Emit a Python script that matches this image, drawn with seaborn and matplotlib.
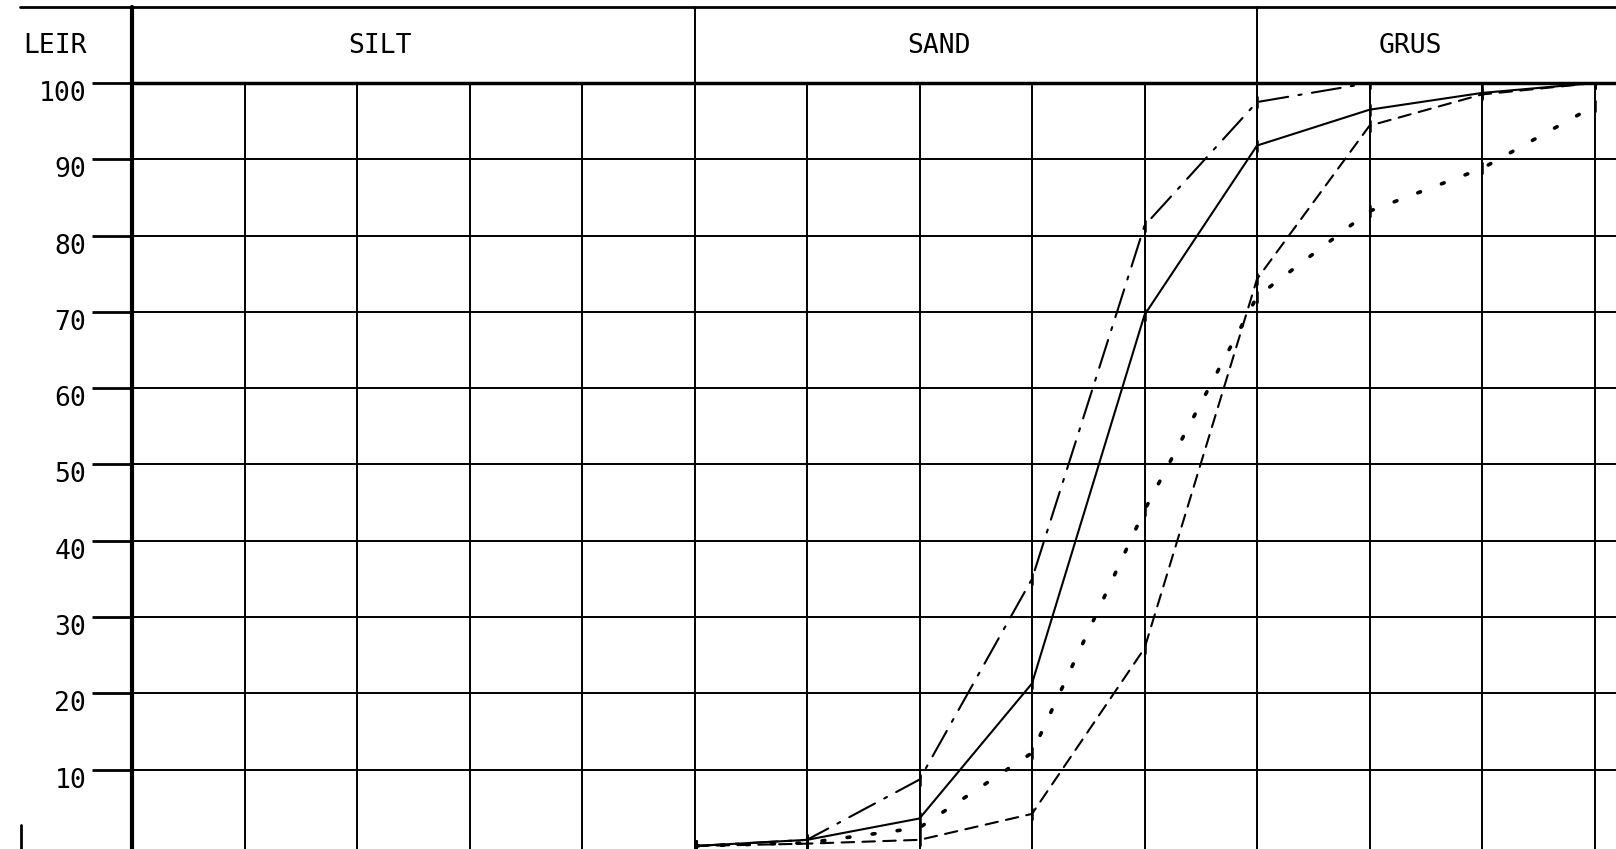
import matplotlib
matplotlib.use("Agg")
import matplotlib.pyplot as plt
import matplotlib.transforms as mtransforms
from matplotlib.lines import Line2D
import seaborn as sns
import pandas as pd
import numpy as np

# Sieve sizes (mm) and cumulative percent passing for the four samples
sieve_mm = [0.063, 0.125, 0.25, 0.5, 1, 2, 4, 8, 16]
sample_solid = [0, 0.8, 3.6, 21.3, 69.6, 91.8, 96.5, 98.7, 100]
sample_dashdot = [0, 0.8, 8.7, 35.0, 81.3, 97.5, 100, 100, 100]
sample_dashed = [0, 0.3, 0.8, 4.2, 25.9, 74.3, 94.4, 98.5, 100]
sample_dotted = [0, 0.4, 2.4, 12.2, 44.0, 72.0, 83.2, 88.8, 97.0]

y_ticks = [10, 20, 30, 40, 50, 60, 70, 80, 90, 100]
fractions = ["SILT", "SAND", "GRUS"]

sns.set_theme(style="white")
plt.rcParams['font.family'] = ['DejaVu Sans Mono', 'DejaVu Sans']

W, H = 1616, 849
fig = plt.figure(figsize=(W / 100, H / 100), dpi=100)
ax_h = (H - 83) / H
ax = fig.add_axes([132 / W, 0, 1 - 132 / W, ax_h])

# phi-grid: one vertical line per doubling of grain size, starting at ~0.002 mm
x0 = 2 / 1024
step_px = 112.5
grid_x = [x0 * 2 ** k for k in range(1, 14)]

data = pd.DataFrame({"mm": sieve_mm, "solid": sample_solid, "dashdot": sample_dashdot,
                     "dashed": sample_dashed, "dotted": sample_dotted})

styles = {
    "solid": ("-", 1.5),
    "dashdot": ((0, (14, 5, 1.5, 5)), 1.5),
    "dashed": ((0, (6, 4)), 1.5),
    "dotted": ((0, (0.8, 6.2)), 2.6),
}
for col, (ls, lw) in styles.items():
    sns.lineplot(data=data, x="mm", y=col, ax=ax, color="black", linestyle=ls,
                 linewidth=lw, marker="|", markersize=9, dash_capstyle="round",
                 markeredgewidth=1.8, markeredgecolor="black", legend=False)

ax.set_xscale("log", base=2)
ax.set_xlim(x0, x0 * 2 ** ((W - 132) / step_px))
ax.set_ylim(-0.4, 100)

ax.set_xticks(grid_x)
ax.set_xticks([], minor=True)
ax.set_xticklabels([])
ax.set_yticks(y_ticks)
ax.set_yticklabels([str(v) for v in y_ticks], fontsize=19)
ax.tick_params(axis="x", length=0)
ax.tick_params(axis="y", left=True, length=29, width=2, pad=4, colors="black")
ax.grid(True, color="black", linewidth=1.4)
ax.set_xlabel("")
ax.set_ylabel("")

offset = mtransforms.ScaledTranslation(0, -8 / 100, fig.dpi_scale_trans)
for lab in ax.get_yticklabels():
    lab.set_transform(lab.get_transform() + offset)

for side in ["right", "bottom"]:
    ax.spines[side].set_visible(False)
ax.spines["left"].set_linewidth(3)
ax.spines["top"].set_linewidth(2.5)
ax.spines["left"].set_color("black")
ax.spines["top"].set_color("black")

# Header row with fraction names
trans = ax.get_xaxis_transform()
head_top = ((H - 7) / H) / ax_h
text_y = ((H - 46) / H) / ax_h
for k in [0, 5, 10]:
    ax.plot([x0 * 2 ** k] * 2, [1, head_top], transform=trans, color="black",
            linewidth=1.4 if k else 3, clip_on=False)
label_pos = [2.2, 7.17, 11.36]
for name, p in zip(fractions, label_pos):
    ax.text(x0 * 2 ** p, text_y, name, transform=trans, ha="center", va="center",
            fontsize=19, color="black", clip_on=False)

fig.add_artist(Line2D([20 / W, 1], [(H - 7) / H] * 2, color="black", linewidth=2,
                      transform=fig.transFigure))
fig.text(55 / W, (H - 46) / H, "LEIR", ha="center", va="center", fontsize=19, color="black")
fig.add_artist(Line2D([21 / W, 21 / W], [0, 24 / H], color="black", linewidth=2,
                      transform=fig.transFigure))

fig.savefig("out.png", dpi=100, facecolor="white")
